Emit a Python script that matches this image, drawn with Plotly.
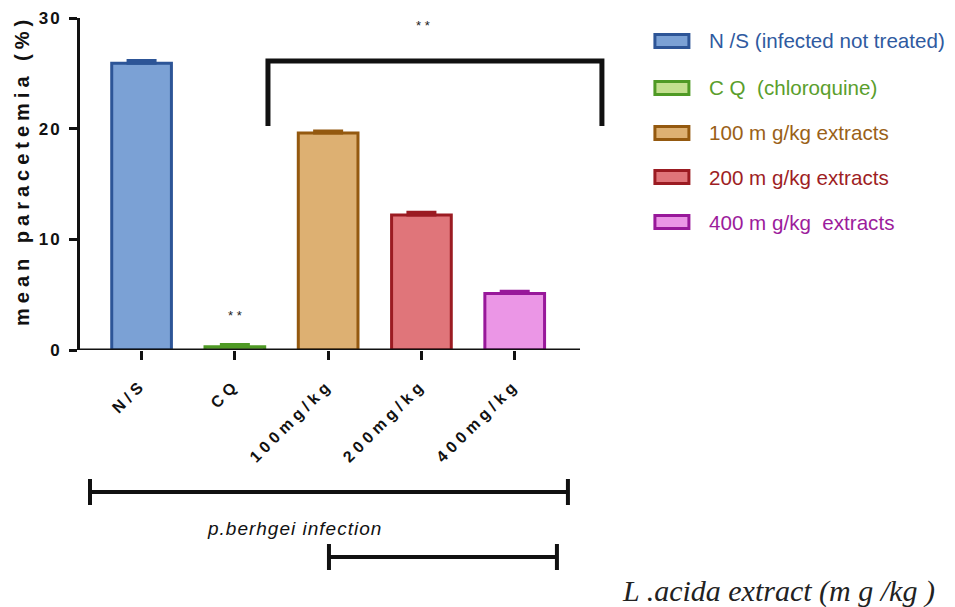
import plotly.graph_objects as go

# ---- data ----
categories = ["N/S", "CQ", "100mg/kg", "200mg/kg", "400mg/kg"]
mean_parasitemia = [25.9, 0.3, 19.6, 12.2, 5.1]
sem_parasitemia = [0.25, 0.2, 0.2, 0.25, 0.2]
legend_labels = [
    "N /S (infected not treated)",
    "C Q  (chloroquine)",
    "100 m g/kg extracts",
    "200 m g/kg extracts",
    "400 m g/kg  extracts",
]
y_ticks = [0, 10, 20, 30]

# ---- styles ----
fill_colors = ["#7ba1d5", "#c3e08f", "#ddb072", "#e0757a", "#eb96e6"]
line_colors = ["#2d5597", "#4f9a25", "#94590f", "#9b1b22", "#98189a"]
text_colors = ["#2f5aa0", "#5a9e2c", "#9a6118", "#9e1e24", "#9c1c9c"]

OFF = 8  # page body margin
W, H = 955, 607 - OFF
L, T, B = 80 - OFF, 18 - OFF, 350 - OFF
XR = [-0.66, 5.0]
PXU = 93.3
R = L + (XR[1] - XR[0]) * PXU


def px(x):
    return (x - OFF - L) / (R - L)


def py(y):
    return (B - (y - OFF)) / (B - T)


def spaced(s, sp):
    return f'<span style="letter-spacing:{sp}px">{s}</span>'


fig = go.Figure()
for i, cat in enumerate(categories):
    fig.add_trace(go.Bar(
        x=[cat], y=[mean_parasitemia[i]],
        width=0.64,
        marker=dict(color=fill_colors[i], line=dict(color=line_colors[i], width=3)),
        error_y=dict(type="data", array=[sem_parasitemia[i]], arrayminus=[0],
                     symmetric=False, color=line_colors[i], thickness=3, width=15),
        showlegend=False,
    ))

shapes = []
# x baseline
shapes.append(dict(type="line", xref="x", yref="y", x0=XR[0], x1=4.7, y0=0, y1=0,
                   line=dict(color="#111", width=3)))
# significance bracket
bx0 = px(268); bx1 = px(602); byt = py(61); byb = py(126)
shapes.append(dict(type="path", xref="paper", yref="paper",
                   path=f"M{bx0},{byb} L{bx0},{byt} L{bx1},{byt} L{bx1},{byb}",
                   line=dict(color="#111", width=5)))
# bottom range bars
for (x0, x1, yy) in [(90, 568, 492), (329, 557, 557)]:
    shapes.append(dict(type="line", xref="paper", yref="paper", x0=px(x0), x1=px(x1),
                       y0=py(yy), y1=py(yy), line=dict(color="#111", width=4)))
    for xx in (x0, x1):
        shapes.append(dict(type="line", xref="paper", yref="paper", x0=px(xx), x1=px(xx),
                           y0=py(yy - 13), y1=py(yy + 13), line=dict(color="#111", width=4)))

annotations = []
# legend
rows = [41, 88, 133, 177, 222]
for i, lab in enumerate(legend_labels):
    shapes.append(dict(type="rect", xref="paper", yref="paper",
                       x0=px(655), x1=px(689), y0=py(rows[i] + 6.5), y1=py(rows[i] - 6.5),
                       fillcolor=fill_colors[i], line=dict(color=line_colors[i], width=3)))
    annotations.append(dict(xref="paper", yref="paper", x=px(707), y=py(rows[i]),
                            xanchor="left", yanchor="middle", showarrow=False, text=lab,
                            font=dict(family="Arial, Liberation Sans", size=20.6, color=text_colors[i])))

annotations += [
    dict(xref="paper", yref="paper", x=px(423), y=py(26), text="* *", showarrow=False,
         font=dict(family="Arial", size=13, color="#222"), xanchor="center", yanchor="middle"),
    dict(xref="x", yref="paper", x=1, y=py(315), text="* *", showarrow=False,
         font=dict(family="Arial", size=13, color="#222"), xanchor="center", yanchor="middle"),
    dict(xref="paper", yref="paper", x=px(22), y=py(171), text="<b>" + spaced("mean paracetemia (%)", 5.0) + "</b>",
         textangle=-90, showarrow=False, xanchor="center", yanchor="middle",
         font=dict(family="Arial, Liberation Sans", size=20, color="#111")),
    dict(xref="paper", yref="paper", x=px(295), y=py(528), text="<i>" + spaced("p.berhgei infection", 1) + "</i>",
         showarrow=False, xanchor="center", yanchor="middle",
         font=dict(family="Arial, Liberation Sans", size=19, color="#111")),
    dict(xref="paper", yref="paper", x=px(779), y=py(591), text="<i>L .acida extract (m g /kg )</i>",
         showarrow=False, xanchor="center", yanchor="middle",
         font=dict(family="Liberation Serif, Times New Roman", size=30, color="#222")),
]

fig.update_layout(
    width=W, height=H,
    margin=dict(l=L, r=W - R, t=T, b=H - B, autoexpand=False),
    plot_bgcolor="white", paper_bgcolor="white",
    barmode="overlay",
    shapes=shapes, annotations=annotations,
    xaxis=dict(type="category", range=XR, showline=False, showgrid=False, zeroline=False,
               tickvals=categories, ticktext=[spaced(c, 4.5) for c in categories],
               ticks="outside", ticklen=9, tickwidth=3, tickcolor="#111", ticklabelstandoff=9,
               tickangle=-45, tickfont=dict(family="Arial", size=16, color="#111", weight="bold")),
    yaxis=dict(range=[0, 30], tickvals=y_ticks, ticktext=[spaced(str(v), 2) for v in y_ticks],
               showline=True, linecolor="#111", linewidth=3, ticklabelstandoff=4,
               showgrid=False, zeroline=False, ticks="outside", ticklen=8, tickwidth=3,
               tickcolor="#111", tickfont=dict(family="Arial", size=17, color="#111", weight="bold")),
    showlegend=False,
)

fig.write_html("out.html")
